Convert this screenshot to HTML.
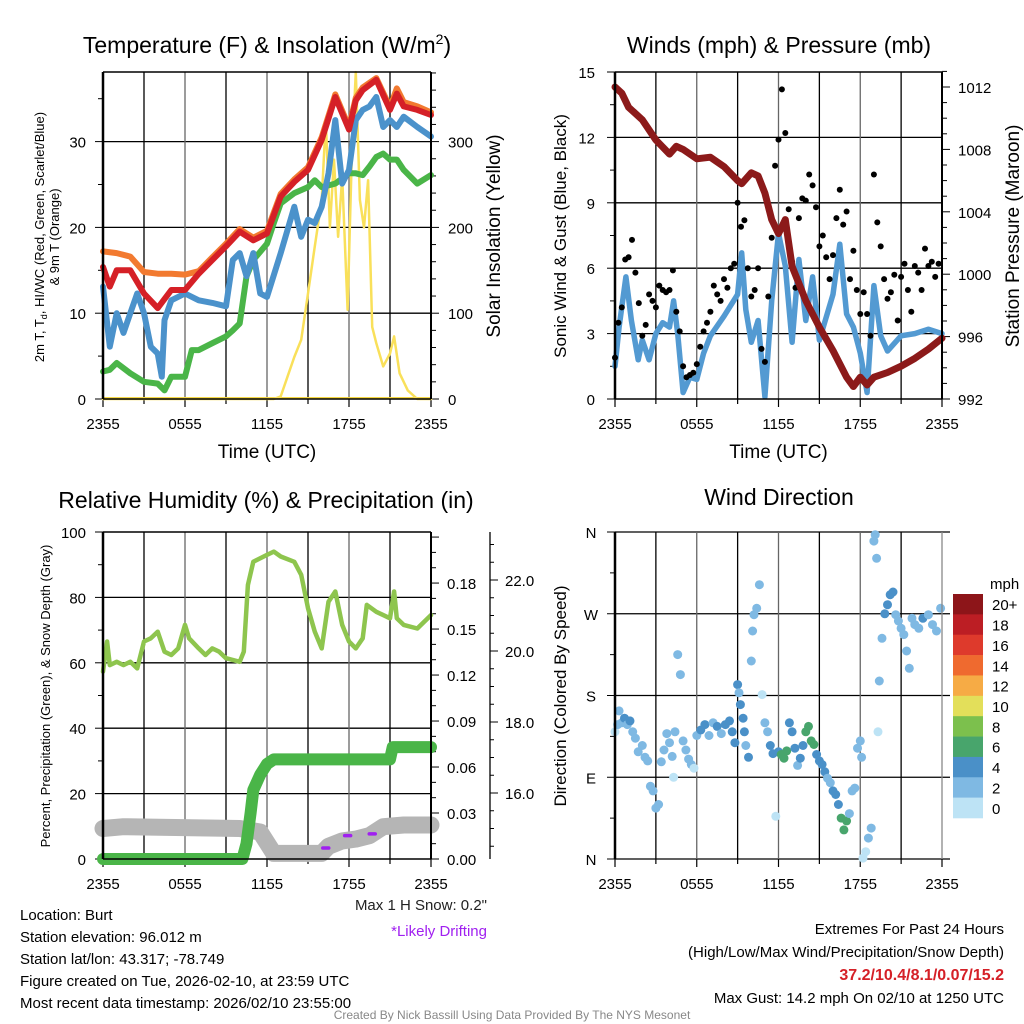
<!DOCTYPE html>
<html><head><meta charset="utf-8"><style>
body{margin:0;background:#fff}
svg{display:block;font-family:"Liberation Sans",Arial,sans-serif}
</style></head><body>
<svg id="c" width="1024" height="1024" viewBox="0 0 1024 1024" xmlns="http://www.w3.org/2000/svg"></svg>
<script>
// ---------- DATA ----------
const redHours=[0,0.5,1,2,3,4,5,6,7,8,9,10,11,12,13,14,15,16,17,18,18.5,19,20,21,21.5,22,23,24];
const redTemp=[15.4,13.1,15,15,12.3,10.6,12.7,12.7,14.6,16.2,17.8,19.5,18.5,19.3,23.6,25.3,26.7,30.2,35.2,31.4,34.8,36,37.2,33.7,35.6,34.1,33.7,33.1];
const orangeHours=[0,1,2,3,4,5,6,7,8,9,10,11,12,13,14,15,16,17,18,18.5,19,20,21,21.5,22,23,24];
const orangeTemp=[17.2,17,16.6,14.8,14.6,14.6,14.5,14.9,16.5,18.1,19.8,18.8,19.6,23.9,25.6,27,30.5,35.5,31.7,35.1,36.3,37.4,34,36.2,34.6,34.1,33.4];
const blueHours=[0,0.5,1,1.5,2,2.5,3,3.5,4,4.3,4.5,5,6,7,8,9,9.5,10,10.5,11,11.5,12,13,14,14.5,15,15.5,16,16.5,17,17.5,18,18.5,19,19.5,20,20.5,21,21.5,22,23,24];
const blueTemp=[13.1,6.1,10,7.7,10,12.3,10,6.1,5.3,2.6,9.2,11.5,12.3,11.5,11.2,10.8,16.2,17,14.3,17,12.3,11.9,17,22.4,18.9,20.9,20.5,22.4,26.3,32.5,25.1,26.7,32.5,33.7,34.1,35.2,31.7,32.5,31.7,32.9,31.7,30.6];
const greenHours=[0,0.5,1,2,3,4,4.5,5,6,6.5,7,8,9,9.5,10,10.5,11,12,12.5,13,14,15,15.5,16,17,18,18.5,19,19.5,20,20.5,21,21.5,22,23,24];
const greenTemp=[3.2,3.4,4.2,3,2,1.8,1,2.6,2.6,5.7,5.7,6.5,7.3,8,8.8,14.3,16.2,18.1,20.5,22.8,24,24.7,25.5,24.7,25.1,26.3,26.3,26.1,27.1,28.2,28.6,27.9,27.9,26.7,25.1,26.1];
const solarHours=[0,12.5,13,13.5,14,14.5,15,15.5,16,16.3,16.6,16.9,17.2,17.5,17.9,18.2,18.5,18.8,19.1,19.4,19.7,20,20.5,21,21.3,21.7,22.3,23,24];
const solarVal=[0,0,3,26,49,69,123,178,232,325,200,279,189,259,104,279,381,232,200,255,84,65,38,53,73,30,10,0,0];
const presHours=[0,0.5,1,2,3,4,4.5,5,6,7,8,9,9.3,10,10.5,11,11.5,12,12.5,13,14,15,16,17,17.5,18,18.5,19,20,21,22,23,24];
const presVal=[1012,1011.6,1010.7,1009.9,1008.6,1007.7,1008.2,1008,1007.4,1007.5,1006.9,1006,1005.8,1006.5,1006.3,1005.2,1003.5,1002.6,1003.5,1000.5,998.3,996.6,995.1,993.4,992.8,993.4,992.9,993.4,993.7,994.1,994.6,995.2,995.9];
const windHours=[0,0.3,0.8,1.2,1.7,2,2.5,3,3.5,4,4.3,4.6,5,5.5,6,6.5,7,8,9,9.3,9.6,10,10.5,11,11.5,12,12.5,13,13.5,14,14.5,15,16,16.5,17,17.5,18,18.5,19,19.5,20,21,22,23,24];
const windVal=[1.5,3.3,5.6,3.6,1.8,2.7,1.8,3,3.5,3.3,4.5,3,0.3,1,0.9,2.1,2.9,3.8,4.8,6.7,4.1,2.6,3.6,0.1,4.5,7.6,6.1,2.6,6.4,3.6,5.6,2.7,4.8,7.1,3.9,3.3,2.1,0.3,5.2,2.9,2.2,2.9,3,3.2,3];
const gustVal=[1.9,3.5,4.2,6.4,6.5,7.3,5.8,4.4,2.9,3.4,4.8,4.5,4.2,5.2,5.0,4.9,5.0,5.9,4.0,3.1,1.5,1.0,1.1,1.2,1.6,2.4,3.1,3.5,4.0,5.2,4.8,4.5,5.5,5.1,6.0,6.2,9.0,7.9,8.2,6.0,4.7,5.0,6.0,2.3,1.7,4.7,7.4,10.7,11.9,14.2,12.2,8.7,6.3,5.1,8.3,9.2,9.1,10.3,9.8,8.8,7.0,7.5,6.5,5.5,6.6,8.3,9.6,8.0,8.6,5.5,6.8,5.0,3.9,4.9,3.9,2.9,10.3,8.1,7.0,5.5,4.6,4.9,5.7,3.6,5.6,6.2,5.0,4.0,6.1,5.8,5.0,6.9,6.1,6.3,5.6,6.2];
const rhHours=[0,0.3,0.5,1,1.5,2,2.5,3,3.5,4,4.5,5,5.5,6,6.3,7,7.5,8,8.5,9,10,10.3,10.6,11,12,12.5,13,14,14.5,15,15.5,16,16.5,17,17.5,18,18.5,19,19.3,20,21,21.3,21.5,22,23,24];
const rhVal=[57.3,66.5,59.3,60.3,59.3,60.3,58.3,66.5,67.5,69.5,63.4,62.4,64.4,71.6,67.5,64.4,62.4,64.4,63.4,61.4,60.3,63.4,83.8,90.9,93,94,92.5,90.9,86.9,76.7,69.5,64.4,78.7,81.8,71.6,66.5,64.4,67.5,77.7,75.6,73.6,81.8,73.6,71.6,70.5,74.6];
const precipHours=[0,10.2,10.5,10.8,11,11.5,12,12.5,21,21.2,24];
const precipVal=[0,0,0.01,0.03,0.045,0.055,0.062,0.065,0.065,0.073,0.073];
const snowHours=[0,1.5,10,11.5,12.5,16,16.5,17.5,18.5,19.5,20.5,22,24];
const snowVal=[15.0,15.05,15.0,14.9,14.3,14.3,14.5,14.65,14.7,14.8,15.05,15.1,15.1];
const driftHours=[16.3,17.9,19.7];
const driftVal=[14.45,14.8,14.85];
const dirHours=[0,0.2,0.3,0.5,0.7,0.9,1.1,1.3,1.5,1.7,2,2.2,2.4,2.6,2.8,3,3.2,3.4,3.6,3.8,4,4.2,4.3,4.4,4.6,4.8,5,5.2,5.4,5.6,5.8,6,6.3,6.6,6.9,7.2,7.5,7.8,8.1,8.4,8.6,8.8,9,9.1,9.2,9.4,9.5,9.6,9.8,10,10.1,10.2,10.4,10.6,10.8,11,11.2,11.4,11.6,11.8,12,12.2,12.4,12.6,12.8,13,13.2,13.4,13.6,13.8,14,14.2,14.4,14.6,14.8,15,15.2,15.4,15.6,15.8,16,16.2,16.4,16.6,16.8,17,17.2,17.4,17.6,17.8,18,18.1,18.2,18.4,18.6,18.8,19,19.1,19.2,19.3,19.4,19.6,19.8,20,20.2,20.4,20.6,20.8,21,21.2,21.4,21.6,21.8,22,22.3,22.6,23,23.3,23.6,23.9];
const dirVal=[140,148,163,150,155,148,152,140,133,118,125,112,108,80,75,56,60,107,120,138,128,113,90,140,225,203,130,120,110,104,100,136,142,148,136,150,146,138,148,152,140,128,192,183,170,155,140,125,112,218,251,269,276,302,181,150,140,125,116,47,118,115,111,119,150,140,122,103,111,125,140,146,130,126,115,108,104,96,89,84,75,71,60,45,32,42,50,75,78,122,130,112,1,8,23,34,350,357,331,140,196,243,270,280,291,294,269,262,254,247,229,210,265,258,254,265,269,258,251,276,262,258,265];
const dirSpd=[1,3,2,3,5,3,4,3,3,3,3,3,3,3,3,3,2,3,2,3,3,3,1,3,3,3,2,3,3,2,1,3,5,5,3,3,5,3,5,5,4,5,5,3,5,5,5,3,5,3,3,3,3,3,1,3,3,5,5,1,5,6,7,7,5,5,5,3,5,5,6,6,7,7,5,5,5,5,3,3,5,5,5,7,7,7,3,3,2,3,2,3,1,1,3,3,3,3,3,1,3,3,5,5,5,5,3,3,3,3,3,3,3,3,3,5,3,3,3,3,3,3];
const cbLabels=["20+","18","16","14","12","10","8","6","4","2","0"];
const cbColors=["#8d1519","#bc1e24","#de3a2c","#ef6a2f","#f6ab45","#e3df5a","#7cc04d","#48a56c","#4a90c8","#7fb9e3","#bde3f5"];
const timeLabels=["2355","0555","1155","1755","2355"];

// ---------- DRAW ----------
const svg=document.getElementById('c');
const NS='http://www.w3.org/2000/svg';
function el(tag,attrs,parent){const e=document.createElementNS(NS,tag);for(const k in attrs)e.setAttribute(k,attrs[k]);(parent||svg).appendChild(e);return e;}
function txt(s,x,y,size,anchor,fill,extra,name){const t=el('text',Object.assign({x:x,y:y,'font-size':size,'text-anchor':anchor||'middle',fill:fill||'#000'},extra||{}));t.textContent=s;


return t;}
function pathFrom(xs,ys,xf,yf){let d='';const n=Math.min(xs.length,ys.length);for(let i=0;i<n;i++){d+=(i?'L':'M')+xf(xs[i]).toFixed(1)+','+yf(ys[i]).toFixed(1);}return d;}

function panel(name){
  const g=el('g',{});
  
  
  return g;
}
function timeAxis(g,L,R,B,withTitle){
  const xs=h=>L+h*(R-L)/24;
  for(let h=3;h<24;h+=3){const ln=el('line',{x1:xs(h),x2:xs(h),y1:B-327,y2:B,stroke:h%6==0?'#666':'#000','stroke-width':1.3},g);
  
  }
  for(let i=0;i<=8;i++){el('line',{x1:xs(i*3),x2:xs(i*3),y1:B,y2:B+(i%2==0?8:5),stroke:'#000','stroke-width':1.2},g);}
  timeLabels.forEach((s,i)=>txt(s,xs(i*6),B+30,15,'middle','#000',{},'x-tick-label'));
  if(withTitle)txt('Time (UTC)',(L+R)/2,B+59,19,'middle','#000',{},'x-axis-title');
  return xs;
}
function hgrid(g,L,R,ys){ys.forEach(y=>{const ln=el('line',{x1:L,x2:R,y1:y,y2:y,stroke:'#000','stroke-width':1.3},g);

});}
function frame(g,L,R,T,B){el('line',{x1:L,x2:L,y1:T,y2:B,stroke:'#000','stroke-width':2.5},g);el('line',{x1:R,x2:R,y1:T,y2:B,stroke:'#000','stroke-width':2},g);el('line',{x1:L,x2:R,y1:T,y2:T,stroke:'#000','stroke-width':1.5},g);el('line',{x1:L,x2:R,y1:B,y2:B,stroke:'#000','stroke-width':1.5},g);}
function line(g,xs,ys,xf,yf,color,w,name){const p=el('path',{d:pathFrom(xs,ys,xf,yf),fill:'none',stroke:color,'stroke-width':w,'stroke-linejoin':'round','stroke-linecap':'round'},g);


return p;}

// ===== Panel 1 =====
(function(){
 const L=103,R=431,T=72,B=399;const g=panel('temperature-panel');
 const yT=v=>B-v*8.58, yS=v=>B-v*0.858;
 hgrid(g,L,R,[yT(10),yT(20),yT(30)]);
 const xs=timeAxis(g,L,R,B,true);
 for(let v=0;v<=35;v+=5){el('line',{x1:L,x2:L-(v%10==0?8:5),y1:yT(v),y2:yT(v),stroke:'#000'},g);}
 [0,10,20,30].forEach(v=>txt(String(v),86,yT(v)+6,15,'end','#000',{},'left-tick-label'));
 for(let v=0;v<=380;v+=20){el('line',{x1:R,x2:R+(v%100==0?8:5),y1:yS(v),y2:yS(v),stroke:'#000'},g);}
 [0,100,200,300].forEach(v=>txt(String(v),448,yS(v)+6,15,'start','#000',{},'right-tick-label'));
 el('line',{x1:L,x2:R,y1:B-1,y2:B-1,stroke:'#f5d742','stroke-width':2},g);
 line(g,solarHours,solarVal,xs,yS,'#f9e05a',2.5,'solar-insolation-line');
 line(g,greenHours,greenTemp,xs,yT,'#4ab548',6,'dewpoint-line');
 line(g,orangeHours,orangeTemp,xs,yT,'#f27a30',6,'temp-9m-line');
 line(g,blueHours,blueTemp,xs,yT,'#4b92cb',6,'heat-index-windchill-line');
 line(g,redHours,redTemp,xs,yT,'#d52027',6,'temp-2m-line');
 frame(g,L,R,T,B);
 const t=txt('',267,53,23,'middle','#000',{},'chart-title-temperature');t.innerHTML='Temperature (F) &amp; Insolation (W/m<tspan dy="-9" font-size="14">2</tspan><tspan dy="9">)</tspan>';
 txt('Solar Insolation (Yellow)',0,0,19,'middle','#000',{transform:'translate(500,236) rotate(-90)'},'right-axis-title');
 const yl=txt('',0,0,13,'middle','#000',{transform:'translate(44,237) rotate(-90)'},'left-axis-title');
 yl.innerHTML='2m T, T<tspan dy="3" font-size="9">d</tspan><tspan dy="-3">, HI/WC (Red, Green, Scarlet/Blue)</tspan>';
 txt('& 9m T (Orange)',0,0,13,'middle','#000',{transform:'translate(59,237) rotate(-90)'},'left-axis-title-2');
})();

// ===== Panel 2 =====
(function(){
 const L=615,R=942,T=72,B=399;const g=panel('winds-panel');
 const yW=v=>B-v*21.8, yP=v=>B-(v-992)*15.6;
 hgrid(g,L,R,[yW(3),yW(6),yW(9),yW(12)]);
 const xs=timeAxis(g,L,R,B,true);
 for(let v=0;v<=15;v+=1.5){el('line',{x1:L,x2:L-(v%3==0?8:5),y1:yW(v),y2:yW(v),stroke:'#000'},g);}
 [0,3,6,9,12,15].forEach(v=>txt(String(v),595,yW(v)+6,15,'end','#000',{},'left-tick-label'));
 for(let v=992;v<=1013;v+=1){el('line',{x1:R,x2:R+(v%4==0?8:5),y1:yP(v),y2:yP(v),stroke:'#000'},g);}
 [992,996,1000,1004,1008,1012].forEach(v=>txt(String(v),958,yP(v)+6,15,'start','#000',{},'right-tick-label'));
 line(g,windHours,windVal,xs,yW,'#539ad2',5.5,'sonic-wind-line');
 gustVal.forEach((v,i)=>{const c=el('circle',{cx:xs(i*0.25).toFixed(1),cy:yW(v).toFixed(1),r:3,fill:'#000'},g);
 
 });
 line(g,presHours,presVal,xs,yP,'#8c1a1a',7,'pressure-line');
 frame(g,L,R,T,B);
 txt('Winds (mph) & Pressure (mb)',779,53,23,'middle','#000',{},'chart-title-winds');
 txt('Sonic Wind & Gust (Blue, Black)',0,0,17,'middle','#000',{transform:'translate(566,236) rotate(-90)'},'left-axis-title');
 txt('Station Pressure (Maroon)',0,0,19,'middle','#000',{transform:'translate(1019,236) rotate(-90)'},'right-axis-title');
})();

// ===== Panel 3 =====
(function(){
 const L=103,R=431,T=532,B=859;const g=panel('humidity-panel');
 const yR=v=>B-v*3.27, yPr=v=>B-v*1533, ySn=v=>793-(v-16)*35.5;
 hgrid(g,L,R,[yR(20),yR(40),yR(60),yR(80)]);
 const xs=timeAxis(g,L,R,B,false);
 for(let v=0;v<=100;v+=10){el('line',{x1:L,x2:L-(v%20==0?8:5),y1:yR(v),y2:yR(v),stroke:'#000'},g);}
 [0,20,40,60,80,100].forEach(v=>txt(String(v),86,yR(v)+6,15,'end','#000',{},'left-tick-label'));
 for(let i=0;i<=21;i++){const v=i*0.01;el('line',{x1:R,x2:R+(i%3==0?8:5),y1:yPr(v),y2:yPr(v),stroke:'#000'},g);}
 [0,0.03,0.06,0.09,0.12,0.15,0.18].forEach(v=>txt(v.toFixed(2),447,yPr(v)+6,15,'start','#000',{},'precip-tick-label'));
 el('line',{x1:490,x2:490,y1:532,y2:859,stroke:'#000','stroke-width':1.3},g);
 for(let v=14.5;v<=23.5;v+=0.5){const y=ySn(v);if(y<534||y>858)continue;el('line',{x1:490,x2:490+(v%2==0?8:4),y1:y,y2:y,stroke:'#000'},g);}
 [16,18,20,22].forEach(v=>txt(v.toFixed(1),505,ySn(v)+6,15,'start','#000',{},'snow-tick-label'));
 line(g,snowHours,snowVal,xs,ySn,'#b5b5b5',17,'snow-depth-line');
 driftHours.forEach((h,i)=>{const p=el('line',{x1:xs(h)-3,x2:xs(h)+3,y1:ySn(driftVal[i]),y2:ySn(driftVal[i]),stroke:'#a020f0','stroke-width':3.5,'stroke-linecap':'round'},g);
 
 });
 line(g,precipHours,precipVal,xs,yPr,'#4ab548',12,'precipitation-line');
 line(g,rhHours,rhVal,xs,yR,'#8ec54e',4.5,'relative-humidity-line');
 frame(g,L,R,T,B);
 txt('Relative Humidity (%) & Precipitation (in)',266,508,23,'middle','#000',{},'chart-title-humidity');
 txt('Percent, Precipitation (Green), & Snow Depth (Gray)',0,0,13,'middle','#000',{transform:'translate(50,696) rotate(-90)'},'left-axis-title');
})();

// ===== Panel 4 =====
(function(){
 const L=615,R=942,T=532,B=859;const g=panel('wind-direction-panel');
 const yD=v=>B-v*327/360;
 hgrid(g,L,R+8,[yD(90),yD(180),yD(270)]);
 el('line',{x1:L,x2:R+8,y1:T,y2:T,stroke:'#000','stroke-width':1.3},g);
 el('line',{x1:L,x2:R+8,y1:B,y2:B,stroke:'#000','stroke-width':1.3},g);
 const xs=timeAxis(g,L,R,B,false);
 for(let v=0;v<=360;v+=45){el('line',{x1:L,x2:L-(v%90==0?8:5),y1:yD(v),y2:yD(v),stroke:'#000'},g);}
 ['N','E','S','W','N'].forEach((s,i)=>txt(s,591,yD(i*90)+6,15,'middle','#000',{},'direction-tick-label'));
 const bin=s=>Math.min(10,Math.floor(s/2));
 const n=Math.min(dirHours.length,dirVal.length,dirSpd.length);
 for(let i=0;i<n;i++){const c=el('circle',{cx:xs(dirHours[i]).toFixed(1),cy:yD(dirVal[i]).toFixed(1),r:4.5,fill:cbColors[10-bin(dirSpd[i])]},g);
 
 }
 el('line',{x1:L,x2:L,y1:T,y2:B,stroke:'#000','stroke-width':2.5},g);
 el('line',{x1:R,x2:R,y1:T,y2:B,stroke:'#888','stroke-width':1.3},g);
 txt('Wind Direction',779,505,23,'middle','#000',{},'chart-title-direction');
 txt('Direction (Colored By Speed)',0,0,17,'middle','#000',{transform:'translate(566,696) rotate(-90)'},'left-axis-title');
 const cb=el('g',{},g);
 
 
 const h=224/11;
 cbColors.forEach((c,i)=>{el('rect',{x:953,y:594+i*h,width:30,height:h+0.3,fill:c},cb);});
 cbLabels.forEach((s,i)=>txt(s,992,594+i*h+h/2+6,15,'start','#000',{},'colorbar-label'));
 txt('mph',990,589,15,'start','#000',{},'colorbar-title');
})();

// ===== Footer text =====
const info=['Location: Burt','Station elevation: 96.012 m','Station lat/lon: 43.317; -78.749','Figure created on Tue, 2026-02-10, at 23:59 UTC','Most recent data timestamp: 2026/02/10 23:55:00'];
info.forEach((s,i)=>txt(s,20,920+i*22,15,'start','#000',{},'station-info-line'));
txt('Max 1 H Snow: 0.2"',487,910,15,'end','#222',{},'max-snow-text');
txt('*Likely Drifting',487,936,15,'end','#a020f0',{},'drifting-note');
txt('Extremes For Past 24 Hours',1004,934,15,'end','#000',{},'extremes-title');
txt('(High/Low/Max Wind/Precipitation/Snow Depth)',1004,957,15,'end','#000',{},'extremes-subtitle');
txt('37.2/10.4/8.1/0.07/15.2',1004,980,16,'end','#d52027',{'font-weight':'bold'},'extremes-values');
txt('Max Gust: 14.2 mph On 02/10 at 1250 UTC',1004,1003,15,'end','#000',{},'max-gust-text');
txt('Created By Nick Bassill Using Data Provided By The NYS Mesonet',512,1019,12,'middle','#888',{},'credit-text');
</script>
</body></html>
